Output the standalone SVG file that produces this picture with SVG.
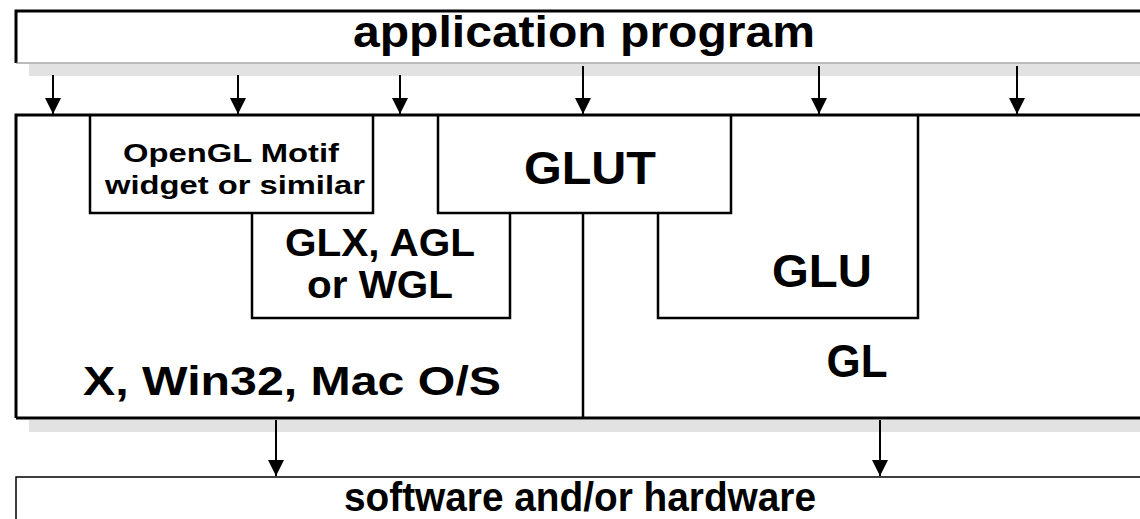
<svg xmlns="http://www.w3.org/2000/svg" width="1140" height="519" viewBox="0 0 1140 519">
<style>
  .t { font-family: "Liberation Sans", Arial, Helvetica, sans-serif; font-weight: bold; fill: #000; }
  .ln { stroke: #000; stroke-width: 2.5; fill: none; }
  .outer { stroke: #000; stroke-width: 3; fill: none; }
  .shadow { fill: #e2e2e2; }
  .arr { stroke: #000; stroke-width: 2; fill: none; marker-end: url(#ah); }
</style>
<defs>
  <marker id="ah" markerWidth="16" markerHeight="16" refX="16" refY="8" orient="auto" markerUnits="userSpaceOnUse" viewBox="0 0 16 16">
    <path d="M0,0 L16,8 L0,16 Z" fill="#000"/>
  </marker>
</defs>
<rect width="1140" height="519" fill="#fff"/>
<g id="shadows">
  <rect class="shadow" x="29" y="64" width="1120" height="12"/>
  <rect class="shadow" x="29" y="420" width="1120" height="12"/>
</g>
<g id="app">
  <rect x="16" y="11" width="1140" height="52" fill="#fff" stroke="none"/>
  <path d="M16,63 L16,11 L1145,11" class="outer"/>
  <line x1="16" y1="63" x2="1145" y2="63" stroke="#777" stroke-width="1"/>
  <text class="t" x="584" y="47" font-size="44" text-anchor="middle" textLength="462" lengthAdjust="spacingAndGlyphs">application program</text>
</g>
<g id="connectors">
  <line class="arr" x1="53" y1="75" x2="53" y2="114"/>
  <line class="arr" x1="238" y1="75" x2="238" y2="114"/>
  <line class="arr" x1="400" y1="75" x2="400" y2="114"/>
  <line class="arr" x1="583" y1="66" x2="583" y2="114"/>
  <line class="arr" x1="819" y1="66" x2="819" y2="114"/>
  <line class="arr" x1="1017" y1="66" x2="1017" y2="114"/>
  <line class="arr" x1="276" y1="420" x2="276" y2="476"/>
  <line class="arr" x1="880" y1="420" x2="880" y2="476"/>
</g>
<g id="system">
  <path d="M16,418 L16,115 L1145,115 M16,418 L1145,418" class="outer"/>
  <text class="t" x="292" y="395" font-size="41" text-anchor="middle" textLength="418" lengthAdjust="spacingAndGlyphs">X, Win32, Mac O/S</text>
</g>
<g id="gl">
  <line x1="583" y1="213" x2="583" y2="418" class="ln"/>
  <text class="t" x="857" y="377" font-size="46" text-anchor="middle" textLength="61" lengthAdjust="spacingAndGlyphs">GL</text>
</g>
<g id="motif">
  <path d="M90,115 L90,213 L373,213 L373,115" class="ln"/>
  <text class="t" x="231" y="162" font-size="25" text-anchor="middle" textLength="216" lengthAdjust="spacingAndGlyphs">OpenGL Motif</text>
  <text class="t" x="235" y="194" font-size="25" text-anchor="middle" textLength="260" lengthAdjust="spacingAndGlyphs">widget or similar</text>
</g>
<g id="glut">
  <path d="M438,115 L438,213 L731,213 L731,115" class="ln"/>
  <text class="t" x="590" y="184" font-size="46" text-anchor="middle" textLength="132" lengthAdjust="spacingAndGlyphs">GLUT</text>
</g>
<g id="glx">
  <path d="M252,213 L252,318 L510,318 L510,213" class="ln"/>
  <text class="t" x="380" y="256" font-size="38" text-anchor="middle" textLength="190" lengthAdjust="spacingAndGlyphs">GLX, AGL</text>
  <text class="t" x="380" y="298" font-size="38" text-anchor="middle" textLength="146" lengthAdjust="spacingAndGlyphs">or WGL</text>
</g>
<g id="glu">
  <path d="M658,213 L658,318 L918,318 L918,115" class="ln"/>
  <text class="t" x="822" y="287" font-size="46" text-anchor="middle" textLength="100" lengthAdjust="spacingAndGlyphs">GLU</text>
</g>
<g id="hw">
  <path d="M16,519 L16,477 L1145,477" stroke="#000" stroke-width="1.5" fill="none"/>
  <text class="t" x="580" y="511" font-size="41" text-anchor="middle" textLength="472" lengthAdjust="spacingAndGlyphs">software and/or hardware</text>
</g>
</svg>
